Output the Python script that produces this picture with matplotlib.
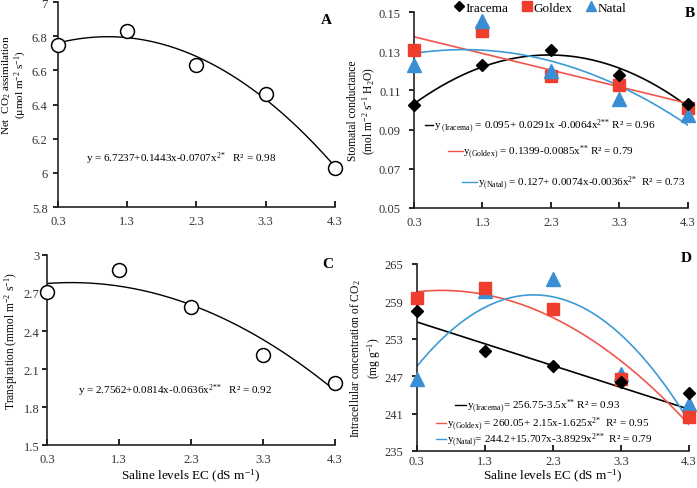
import numpy as np
import matplotlib.pyplot as plt
from matplotlib.lines import Line2D

plt.rcParams['font.family'] = ['Liberation Serif', 'DejaVu Serif']
plt.rcParams['mathtext.fontset'] = 'custom'
plt.rcParams['mathtext.rm'] = 'Liberation Serif'
plt.rcParams['mathtext.it'] = 'Liberation Serif'

saline = [0.3, 1.3, 2.3, 3.3, 4.3]
xticks = [0.3, 1.3, 2.3, 3.3, 4.3]

# panel A - net CO2 assimilation
a_vals = [6.75, 6.83, 6.63, 6.46, 6.03]
a_coef = [6.7237, 0.1443, -0.0707]

# panel B - stomatal conductance
b_iracema = [0.1024, 0.1228, 0.1304, 0.1177, 0.1029]
b_goldex = [0.1304, 0.1403, 0.1173, 0.1126, 0.1012]
b_natal = [0.1228, 0.1452, 0.1199, 0.1054, 0.0973]
b_coef_iracema = [0.095, 0.0291, -0.0064]
b_coef_goldex = [0.1399, -0.0085, 0.0]
b_coef_natal = [0.127, 0.0074, -0.0036]

# panel C - transpiration
c_vals = [2.71, 2.88, 2.59, 2.21, 1.99]
c_coef = [2.7562, 0.0814, -0.0636]

# panel D - intracellular CO2
d_iracema = [257.4, 251.1, 248.7, 246.0, 244.3]
d_goldex = [259.6, 261.1, 257.7, 246.5, 240.5]
d_natal = [246.6, 260.7, 262.6, 247.3, 242.5]
d_coef_iracema = [256.75, -3.5, 0.0]
d_coef_goldex = [260.05, 2.15, -1.625]
d_coef_natal = [244.2, 15.707, -3.8929]

BLACK = 'black'
RED = '#f03e2e'
BLUE = '#3a8fd4'
RED_LINE = '#f0564a'
BLUE_LINE = '#3d9ad6'

xs = np.linspace(0.3, 4.3, 200)


def quad(c, x):
    return c[0] + c[1] * x + c[2] * x ** 2


def style_axis(ax, ylim, yticks, yfmt, ypad=6, xpad=6):
    ax.set_xlim(0.3, 4.3)
    ax.set_ylim(*ylim)
    ax.set_xticks(xticks)
    ax.set_xticklabels([str(t) for t in xticks])
    ax.set_yticks(yticks)
    ax.set_yticklabels([yfmt(t) for t in yticks])
    for s in ['top', 'right']:
        ax.spines[s].set_visible(False)
    for s in ['left', 'bottom']:
        ax.spines[s].set_linewidth(1.2)
        ax.spines[s].set_color('#222222')
    ax.tick_params(axis='y', direction='out', length=3.5, width=1.2, labelsize=9, pad=ypad, labelcolor='#333333')
    ax.tick_params(axis='x', direction='in', length=4, width=1.2, labelsize=9, pad=xpad, labelcolor='#333333')


def eq_line(ax, x0, x1, y, color):
    ax.add_line(Line2D([x0, x1], [y, y], color=color, lw=1.0))


LAB = 8.3
EQ = 8

fig = plt.figure(figsize=(6.97, 4.89), dpi=100)
axA = fig.add_axes([0.0832, 0.5746, 0.3974, 0.4191])
axB = fig.add_axes([0.594, 0.5726, 0.393, 0.4008])
axC = fig.add_axes([0.0674, 0.0879, 0.4132, 0.3886])
axD = fig.add_axes([0.598, 0.0757, 0.3905, 0.3824])

# A
axA.plot(xs, quad(a_coef, xs), color=BLACK, lw=1.0)
axA.plot(saline, a_vals, 'o', ms=10, mfc='white', mec=BLACK, mew=1.1, clip_on=False, zorder=3)
style_axis(axA, (5.8, 7.0), [5.8, 6.0, 6.2, 6.4, 6.6, 6.8, 7.0],
           lambda t: '6' if abs(t - 6) < 1e-9 else ('7' if abs(t - 7) < 1e-9 else f'{t:.1f}'), ypad=4)
axA.set_ylabel('Net  CO$_2$ assimilation\n(µmol m$^{-2}$ s$^{-1}$)', fontsize=8, linespacing=1.05)
axA.yaxis.set_label_coords(-0.104, 0.6)
axA.text(0.7, 6.09, 'y = 6.7237+0.1443x-0.0707x$^{2{*}}$   R² = 0.98', fontsize=EQ, va='center')
axA.text(4.25, 6.9, 'A', fontsize=11, fontweight='bold', ha='right', va='center')

# B
axB.plot(xs, quad(b_coef_iracema, xs), color=BLACK, lw=1.2)
axB.plot(xs, quad(b_coef_goldex, xs), color=RED_LINE, lw=1.2)
axB.plot(xs, quad(b_coef_natal, xs), color=BLUE_LINE, lw=1.2)
hi, = axB.plot(saline, b_iracema, 'D', ms=6.5, color=BLACK, clip_on=False, zorder=4, label='Iracema')
hg, = axB.plot(saline, b_goldex, 's', ms=9, color=RED, clip_on=False, zorder=3, label='Goldex')
hn, = axB.plot(saline, b_natal, '^', ms=9.5, color=BLUE, clip_on=False, zorder=3, label='Natal')
style_axis(axB, (0.05, 0.15), [0.05, 0.07, 0.09, 0.11, 0.13, 0.15], lambda t: f'{t:.2f}')
axB.set_ylabel('Stomatal conductance\n(mol m$^{-2}$ s$^{-1}$ H$_2$O)', fontsize=LAB, linespacing=1.2)
axB.yaxis.set_label_coords(-0.13, 0.5)
eq_line(axB, 0.46, 0.58, 0.0922, BLACK)
axB.text(0.59, 0.0922, 'y$_{\\ (Iracema)}$ = 0.095+ 0.0291x -0.0064x$^{2{*}{*}}$ R² = 0.96', fontsize=EQ, va='center')
eq_line(axB, 0.80, 1.01, 0.0789, RED_LINE)
axB.text(1.02, 0.0789, 'y$_{(Goldex)}$ = 0.1399-0.0085x$^{{*}{*}}$ R² = 0.79', fontsize=EQ, va='center')
eq_line(axB, 1.0, 1.22, 0.0633, BLUE_LINE)
axB.text(1.23, 0.0633, 'y$_{(Natal)}$ = 0.127+ 0.0074x-0.0036x$^{2{*}}$  R² = 0.73', fontsize=EQ, va='center')
fig.text(0.997, 0.972, 'B', fontsize=11, fontweight='bold', ha='right', va='center')
fig.legend(handles=[hi, hg, hn], loc='center', bbox_to_anchor=(0.775, 0.982), ncol=3,
           frameon=False, fontsize=9.5, handletextpad=0.1, columnspacing=1.0,
           handlelength=0.8, markerscale=0.8, borderpad=0)

# C
axC.plot(xs, quad(c_coef, xs), color=BLACK, lw=1.0)
axC.plot(saline, c_vals, 'o', ms=10, mfc='white', mec=BLACK, mew=1.1, clip_on=False, zorder=3)
style_axis(axC, (1.5, 3.0), [1.5, 1.8, 2.1, 2.4, 2.7, 3.0],
           lambda t: '3' if abs(t - 3) < 1e-9 else f'{t:.1f}', ypad=2)
axC.set_ylabel('Transpiration (mmol m$^{-2}$ s$^{-1}$)', fontsize=LAB)
axC.yaxis.set_label_coords(-0.093, 0.55)
axC.set_xlabel('Saline levels EC (dS m$^{-1}$)', fontsize=9.5, labelpad=1)
axC.text(0.73, 1.937, 'y = 2.7562+0.0814x-0.0636x$^{2{*}{*}}$   R² = 0.92', fontsize=EQ, va='center')
axC.text(4.28, 2.93, 'C', fontsize=11, fontweight='bold', ha='right', va='center')

# D
axD.plot(xs, quad(d_coef_iracema, xs), color=BLACK, lw=1.2)
axD.plot(xs, quad(d_coef_goldex, xs), color=RED_LINE, lw=1.2)
axD.plot(xs, quad(d_coef_natal, xs), color=BLUE_LINE, lw=1.2)
axD.plot(saline, d_natal, '^', ms=9.5, color=BLUE, clip_on=False, zorder=3)
axD.plot(saline, d_goldex, 's', ms=9, color=RED, clip_on=False, zorder=4)
axD.plot(saline, d_iracema, 'D', ms=6.5, color=BLACK, clip_on=False, zorder=5)
style_axis(axD, (235, 265), [235, 241, 247, 253, 259, 265], lambda t: f'{t:d}', xpad=3)
axD.set_ylabel('Intracellular concentration of CO$_2$\n(mg g$^{-1}$)', fontsize=LAB, linespacing=1.2)
axD.yaxis.set_label_coords(-0.125, 0.5)
axD.set_xlabel('Saline levels EC (dS m$^{-1}$)', fontsize=9.5, labelpad=0)
eq_line(axD, 0.86, 1.03, 242.3, BLACK)
axD.text(1.04, 242.3, 'y$_{(Iracema)}$= 256.75-3.5x$^{{*}{*}}$ R² = 0.93', fontsize=EQ, va='center')
eq_line(axD, 0.58, 0.73, 239.45, RED_LINE)
axD.text(0.74, 239.45, 'y$_{(Goldex)}$ = 260.05+ 2.15x-1.625x$^{2{*}}$  R² = 0.95', fontsize=EQ, va='center')
eq_line(axD, 0.58, 0.73, 236.9, BLUE_LINE)
axD.text(0.74, 236.9, 'y$_{(Natal)}$= 244.2+15.707x-3.8929x$^{2{*}{*}}$  R² = 0.79', fontsize=EQ, va='center')
fig.text(0.993, 0.472, 'D', fontsize=11, fontweight='bold', ha='right', va='center')

fig.savefig('out.png', dpi=100)
